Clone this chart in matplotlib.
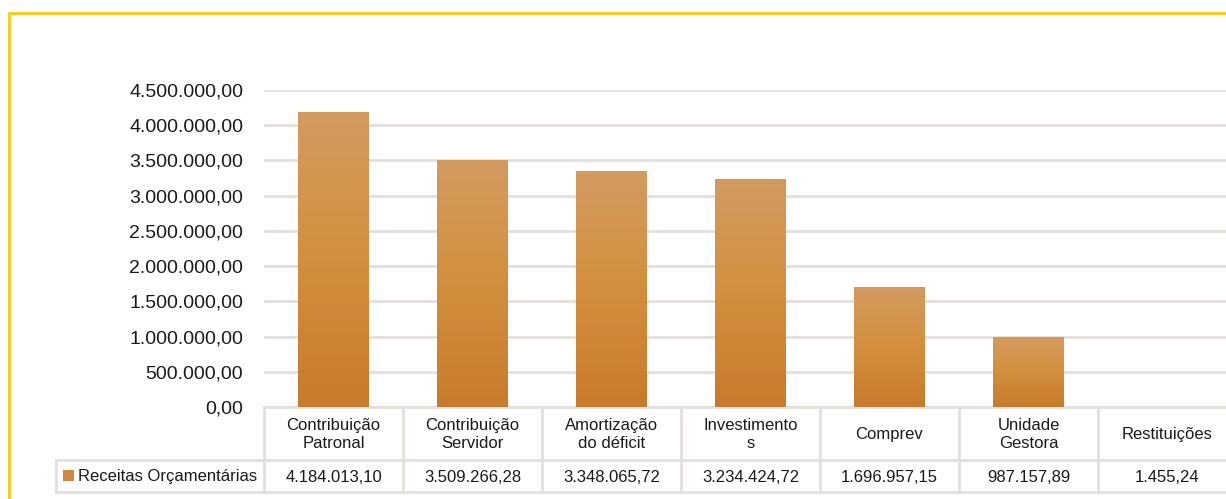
import matplotlib.pyplot as plt
import matplotlib.ticker as mticker
import numpy as np
from matplotlib.colors import LinearSegmentedColormap

# dados do grafico
categorias = ["Contribuição\nPatronal", "Contribuição\nServidor", "Amortização\ndo déficit",
              "Investimento\ns", "Comprev", "Unidade\nGestora", "Restituições"]
valores = [4184013.10, 3509266.28, 3348065.72, 3234424.72, 1696957.15, 987157.89, 1455.24]
serie = "Receitas Orçamentárias"
yticks = [0, 500000, 1000000, 1500000, 2000000, 2500000, 3000000, 3500000, 4000000, 4500000]

plt.rcParams['font.family'] = ['Liberation Sans', 'DejaVu Sans']

W, H = 1226, 499
left_px, colw_px = 264, 139  # layout da area do grafico / tabela
top_px, base_px = 90, 407
row1_px, row2_px = 460, 492
leg_px = 56
grid_col = '#E3DFDB'
ncol = len(categorias)


def fmt_br(v, pos=None):
	s = "{:,.2f}".format(v)
	return s.replace(",", "X").replace(".", ",").replace("X", ".")


fig = plt.figure(figsize=(W / 100, H / 100), dpi=100)

# overlay em pixels para borda e tabela
ov = fig.add_axes([0, 0, 1, 1])
ov.set_xlim(0, W)
ov.set_ylim(H, 0)
ov.axis('off')

ax = fig.add_axes([left_px / W, 1 - base_px / H, ncol * colw_px / W, (base_px - top_px) / H])
ax.set_xlim(-0.5, ncol - 0.5)
ax.set_ylim(0, 4500000)
ax.set_yticks(yticks)
ax.yaxis.set_major_formatter(mticker.FuncFormatter(fmt_br))
ax.tick_params(axis='y', length=0, pad=15, labelsize=14, labelcolor='#1a1a1a')
ax.set_xticks([])
for s in ax.spines.values():
	s.set_visible(False)
ax.grid(axis='y', color=grid_col, linewidth=2)
ax.set_axisbelow(True)
ax.patch.set_alpha(0)

# barras com gradiente
cmap = LinearSegmentedColormap.from_list('laranja', ['#C77B2B', '#D38F3D', '#D49B60'])
grad = np.linspace(0, 1, 256).reshape(-1, 1)
bars = ax.bar(range(ncol), valores, width=0.51, color='none', edgecolor='none', zorder=2)
for b in bars:
	x0, y0 = b.get_x(), b.get_y()
	im = ax.imshow(grad, cmap=cmap, aspect='auto', origin='lower', zorder=2,
				   extent=[x0, x0 + b.get_width(), y0, y0 + b.get_height()])
	im.set_clip_path(b)
ax.set_xlim(-0.5, ncol - 0.5)
ax.set_ylim(0, 4500000)

# borda amarela
ov.plot([9, W + 5], [13, 13], color='#FFC90E', lw=2, solid_capstyle='butt')
ov.plot([9, 9], [12, H + 5], color='#FFC90E', lw=2, solid_capstyle='butt')

# tabela de dados
right_px = left_px + ncol * colw_px
lw = 2
ov.plot([left_px, right_px], [base_px, base_px], color=grid_col, lw=lw)
ov.plot([leg_px, right_px], [row1_px, row1_px], color=grid_col, lw=lw)
ov.plot([leg_px, right_px], [row2_px, row2_px], color=grid_col, lw=lw)
ov.plot([leg_px, leg_px], [row1_px, row2_px], color=grid_col, lw=lw)
for i in range(ncol + 1):
	x = left_px + i * colw_px
	ov.plot([x, x], [base_px, row2_px], color=grid_col, lw=lw)

for i, (cat, v) in enumerate(zip(categorias, valores)):
	cx = left_px + (i + 0.5) * colw_px
	ov.text(cx, (base_px + row1_px) / 2 + 1, cat, ha='center', va='center', fontsize=12,
			color='#1a1a1a', linespacing=1.25)
	ov.text(cx, (row1_px + row2_px) / 2 + 1, fmt_br(v), ha='center', va='center', fontsize=12,
			color='#1a1a1a')

# legenda na tabela
ov.add_patch(plt.Rectangle((63, 470), 11, 11, transform=ov.transData,
						   facecolor='#CE893F', edgecolor='none'))
ov.text(78, (row1_px + row2_px) / 2 + 1, serie, ha='left', va='center', fontsize=12, color='#1a1a1a')

fig.savefig('out.png', dpi=100)
